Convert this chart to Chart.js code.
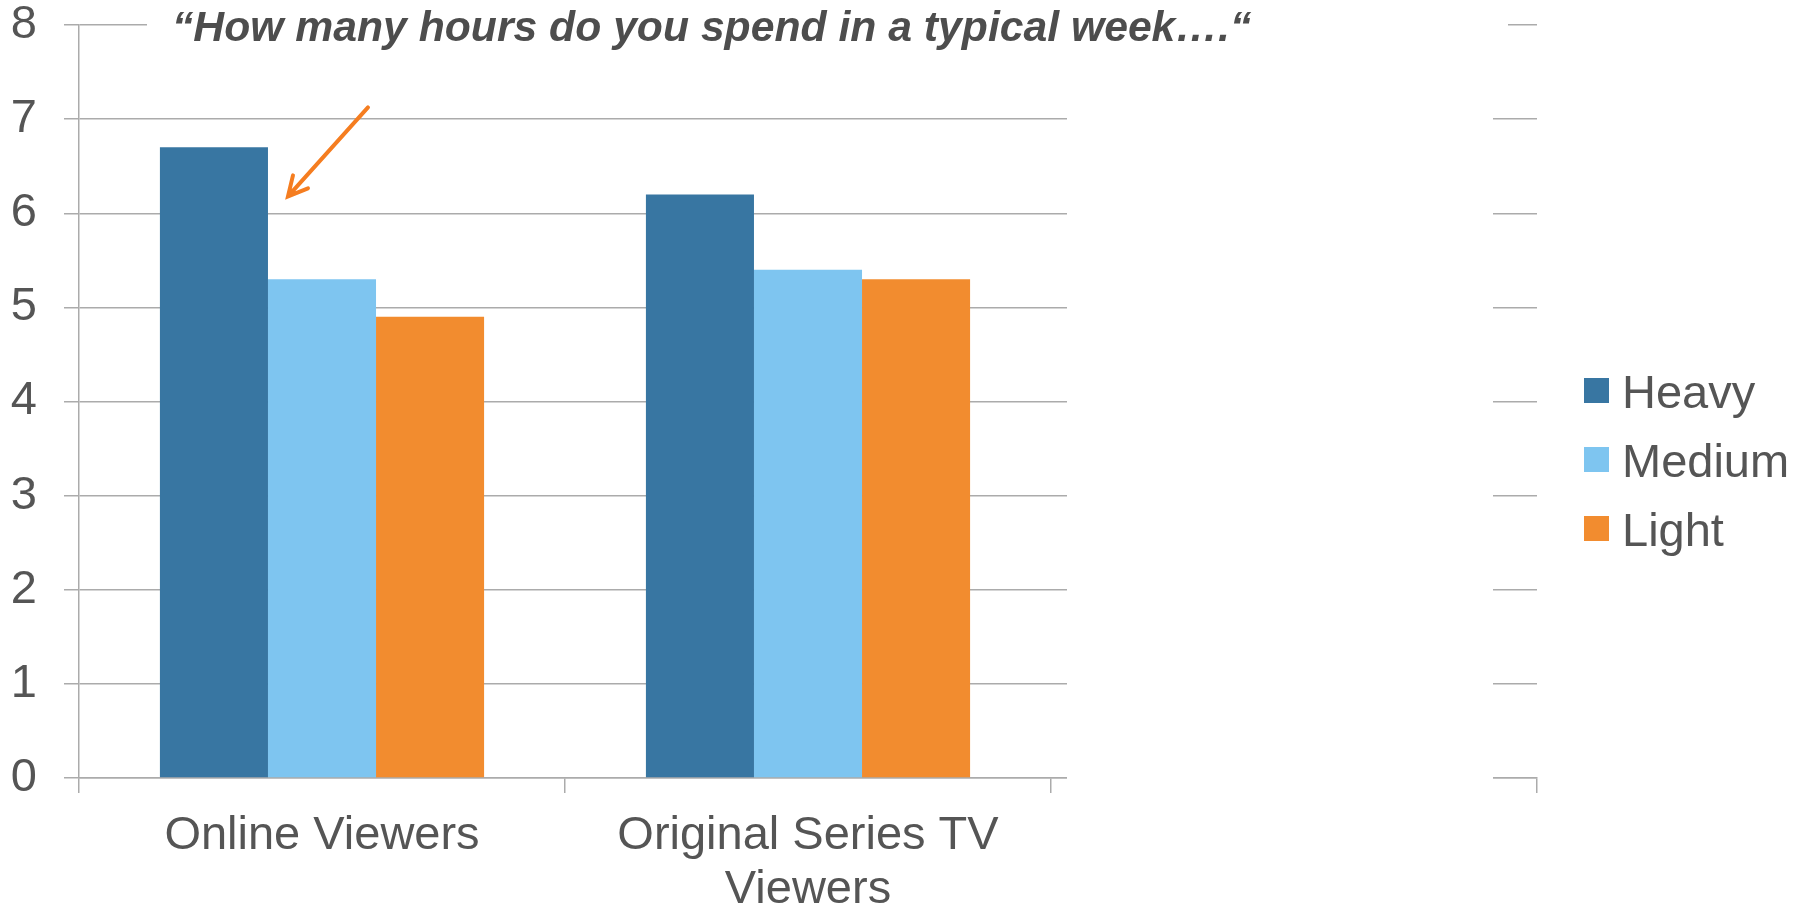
<!DOCTYPE html>
<html>
<head>
<meta charset="utf-8" />
<title>Hours per week</title>
<script src="https://cdn.jsdelivr.net/npm/chart.js@4/dist/chart.umd.min.js"></script>
<style>
  html, body { margin: 0; padding: 0; background: #fff; }
  #wrap { width: 1808px; height: 910px; }
</style>
</head>
<body>
<div id="wrap"><canvas id="Chart" width="1808" height="910"></canvas></div>
<script>
const categories = ["Online Viewers", ["Original Series TV", "Viewers"], ""];
const seriesNames = ["Heavy", "Medium", "Light"];
const heavy = [6.7, 6.2, null];
const medium = [5.3, 5.4, null];
const light = [4.9, 5.3, null];
const yMin = 0;
const yMax = 8;
const yStep = 1;
const titleText = "\u201CHow many hours do you spend in a typical week\u2026.\u201C";

const colors = ["#3876A2", "#7EC5F0", "#F28C2F"];
const textColor = "#555555";
const gridColor = "#ABABAB";
const fontFamily = "'Liberation Sans', Arial, sans-serif";

// white boxes behind the title and legend, then the legend, title and arrow
const overlay = {
  id: "overlay",
  afterDraw(chart) {
    const ctx = chart.ctx;
    ctx.save();
    ctx.fillStyle = "#fff";
    ctx.fillRect(147, 0, 1508 - 147, 50);
    ctx.fillRect(1067, 60, 1493 - 1067, 740);

    ctx.font = `italic bold 42.7px ${fontFamily}`;
    ctx.fillStyle = "#4D4D4D";
    ctx.textBaseline = "alphabetic";
    ctx.fillText(titleText, 172, 41);

    ctx.font = `47px ${fontFamily}`;
    seriesNames.forEach((name, i) => {
      const cy = 390.5 + i * 69;
      ctx.fillStyle = colors[i];
      ctx.fillRect(1584, cy - 12.5, 25, 25);
      ctx.fillStyle = textColor;
      ctx.fillText(name, 1622, cy + 17.5);
    });

    // arrow pointing at the Online Viewers heavy bar
    const bar = chart.getDatasetMeta(0).data[0];
    const tipX = bar.x + bar.width / 2 + 20;
    const tipY = bar.y + 49;
    ctx.strokeStyle = "#F57D20";
    ctx.lineWidth = 4;
    ctx.lineCap = "round";
    ctx.beginPath();
    ctx.moveTo(tipX + 80, tipY - 89);
    ctx.lineTo(tipX, tipY);
    ctx.moveTo(tipX + 5, tipY - 21);
    ctx.lineTo(tipX, tipY);
    ctx.lineTo(tipX + 20, tipY - 8);
    ctx.stroke();
    ctx.restore();
  },
};

const chart = new Chart(document.getElementById("Chart"), {
  type: "bar",
  data: {
    labels: categories,
    datasets: [
      { label: seriesNames[0], data: heavy, backgroundColor: colors[0] },
      { label: seriesNames[1], data: medium, backgroundColor: colors[1] },
      { label: seriesNames[2], data: light, backgroundColor: colors[2] },
    ],
  },
  options: {
    responsive: false,
    animation: false,
    datasets: {
      bar: { categoryPercentage: 0.667, barPercentage: 1.0 },
    },
    layout: { padding: { top: 25, right: 271, left: 0, bottom: 0 } },
    plugins: {
      legend: { display: false },
      title: { display: false },
      tooltip: { enabled: false },
    },
    scales: {
      x: {
        grid: {
          offset: true,
          drawOnChartArea: false,
          drawTicks: true,
          tickLength: 15,
          color: gridColor,
          lineWidth: 1.5,
        },
        border: { display: true, color: gridColor, width: 1.5 },
        ticks: {
          color: textColor,
          font: { family: fontFamily, size: 47, lineHeight: 1.15 },
          padding: 16,
          maxRotation: 0,
          autoSkip: false,
        },
        afterFit(scale) {
          scale.height = 132;
          scale.paddingLeft = 0;
          scale.paddingRight = 0;
        },
      },
      y: {
        min: yMin,
        max: yMax,
        grid: {
          color: gridColor,
          lineWidth: 1.5,
          tickLength: 15,
        },
        border: { display: true, color: gridColor, width: 1.5 },
        ticks: {
          stepSize: yStep,
          color: textColor,
          font: { family: fontFamily, size: 47 },
          padding: 27,
        },
        afterFit(scale) {
          scale.width = 79;
          scale.paddingTop = 0;
          scale.paddingBottom = 0;
        },
      },
    },
  },
  plugins: [overlay],
});
</script>
</body>
</html>
